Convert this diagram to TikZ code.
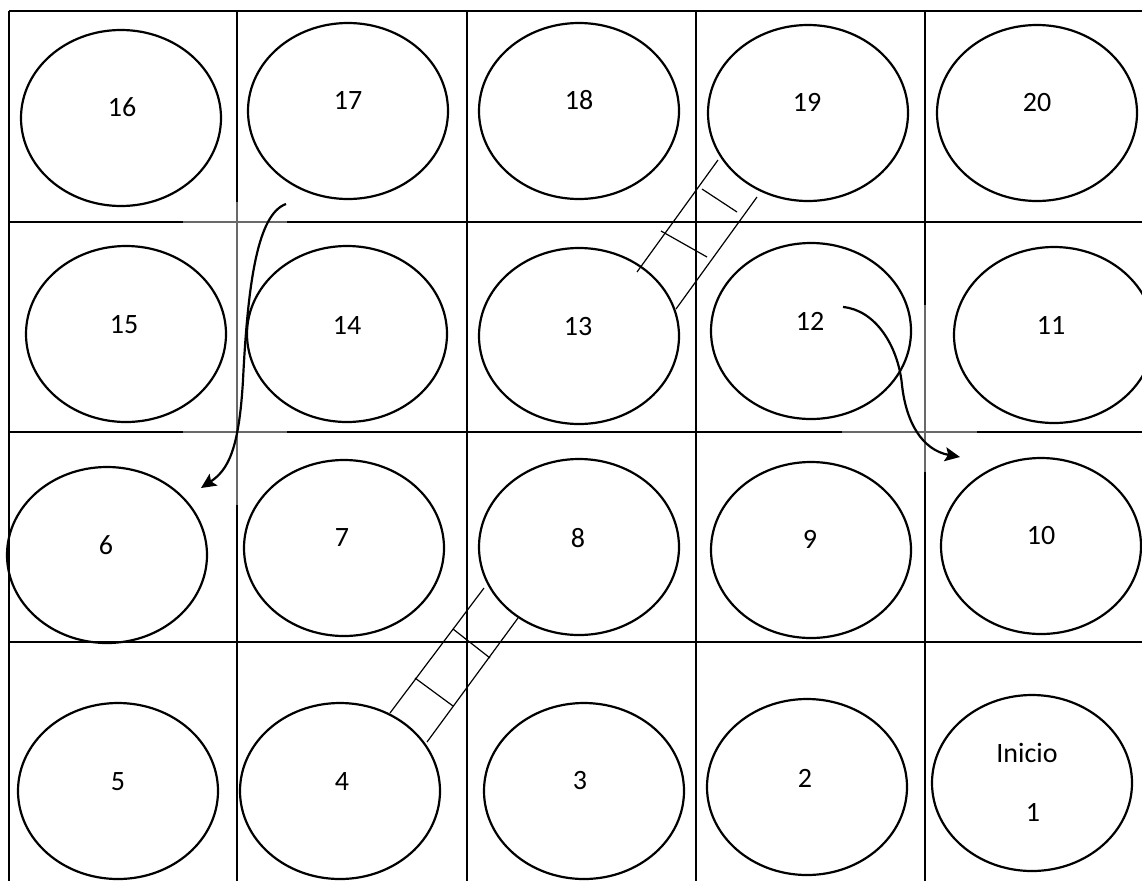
\documentclass[tikz,border=0pt]{standalone}
\usepackage{fontspec}
\setmainfont{Carlito}
\usetikzlibrary{shapes.geometric,arrows.meta}
\definecolor{framegray}{RGB}{105,105,105}
\tikzset{
  cell/.style={draw=black, line width=2.2pt, ellipse, minimum width=200pt, minimum height=176pt, inner sep=0pt, outer sep=0pt},
  lbl/.style={inner sep=0pt, font=\fontsize{28}{31}\selectfont},
  grid/.style={line width=2.3pt, black},
  gline/.style={line width=2.6pt, framegray},
  rail/.style={line width=1.2pt, black},
  jump/.style={line width=2.2pt, black, -{Stealth[length=15pt,width=14pt,inset=3pt]}}
}
\begin{document}
\begin{tikzpicture}[x=1pt,y=-1pt]
\useasboundingbox (0,0) rectangle (1142,881);
\fill[white] (0,0) rectangle (1142,881);
\clip (0,0) rectangle (1142,881);
% grid lines
\draw[grid] (9,11) -- (1142,11);
\draw[grid] (9,222) -- (183,222) (287,222) -- (1142,222);
\draw[grid] (9,432) -- (183,432) (287,432) -- (842,432) (977,432) -- (1142,432);
\draw[grid] (9,642) -- (1142,642);
\draw[grid] (9,11) -- (9,881);
\draw[grid] (237,11) -- (237,202) (237,505) -- (237,881);
\draw[grid] (467,11) -- (467,881);
\draw[grid] (696,11) -- (696,881);
\draw[grid] (925,11) -- (925,305) (925,472) -- (925,881);
% gray frame remnants
\draw[gline] (183,222) -- (287,222) (183,432) -- (287,432) (237,202) -- (237,505);
\draw[gline] (842,432) -- (977,432) (925,305) -- (925,472);
% cells
\node[cell] (e16) at (121,118) {};
\node[cell] (e17) at (348,111) {};
\node[cell] (e18) at (579,111) {};
\node[cell] (e19) at (808,113) {};
\node[cell] (e20) at (1037,113) {};
\node[cell] (e15) at (126,334) {};
\node[cell] (e14) at (347,334) {};
\node[cell] (e13) at (579,336) {};
\node[cell] (e12) at (811,331) {};
\node[cell] (e11) at (1054,335) {};
\node[cell] (e6) at (107,555) {};
\node[cell] (e7) at (344,548) {};
\node[cell] (e8) at (579,547) {};
\node[cell] (e9) at (811,550) {};
\node[cell] (e10) at (1041,546) {};
\node[cell] (e5) at (118,791) {};
\node[cell] (e4) at (340,791) {};
\node[cell] (e3) at (584,791) {};
\node[cell] (e2) at (807,787) {};
\node[cell] (e1) at (1032,783) {};
% labels
\node[lbl] (t16) at (122,107) {16};
\node[lbl] (t17) at (348,100) {17};
\node[lbl] (t18) at (579,100) {18};
\node[lbl] (t19) at (807,102) {19};
\node[lbl] (t20) at (1037,103) {20};
\node[lbl] (t15) at (124,325) {15};
\node[lbl] (t14) at (347,325) {14};
\node[lbl] (t13) at (578,327) {13};
\node[lbl] (t12) at (810,321) {12};
\node[lbl] (t11) at (1051,325) {11};
\node[lbl] (t6) at (106,545) {6};
\node[lbl] (t7) at (342,538) {7};
\node[lbl] (t8) at (578,538) {8};
\node[lbl] (t9) at (810,539) {9};
\node[lbl] (t10) at (1041,536) {10};
\node[lbl] (t5) at (118,782) {5};
\node[lbl] (t4) at (342,781) {4};
\node[lbl] (t3) at (580,780) {3};
\node[lbl] (t2) at (805,778) {2};
\node[lbl] (tinicio) at (1027,753) {Inicio};
\node[lbl] (t1) at (1033,812) {1};
% ladder 13 -> 19
\coordinate (la1) at (637,272); \coordinate (la2) at (718,160);
\coordinate (lb1) at (676,309); \coordinate (lb2) at (757,197);
\coordinate (lr1a) at (661,231); \coordinate (lr1b) at (707,257);
\coordinate (lr2a) at (702,189); \coordinate (lr2b) at (737,212);
\draw[rail] (la1) -- (la2);
\draw[rail] (lb1) -- (lb2);
\draw[rail] (lr1a) -- (lr1b);
\draw[rail] (lr2a) -- (lr2b);
% ladder 4 -> 8
\coordinate (ma1) at (390,713); \coordinate (ma2) at (484,588);
\coordinate (mb1) at (427,742); \coordinate (mb2) at (518,618);
\coordinate (mr1a) at (415,678); \coordinate (mr1b) at (453,706);
\coordinate (mr2a) at (453,629); \coordinate (mr2b) at (490,658);
\draw[rail] (ma1) -- (ma2);
\draw[rail] (mb1) -- (mb2);
\draw[rail] (mr1a) -- (mr1b);
\draw[rail] (mr2a) -- (mr2b);
% snake arrows
\coordinate (a1s) at (286,204); \coordinate (a1e) at (201,488);
\draw[jump] (a1s) .. controls (258,214) and (248,280) .. (243,380) .. controls (239,450) and (228,470) .. (a1e);
\coordinate (a2s) at (843,307); \coordinate (a2e) at (960,457);
\draw[jump] (a2s) .. controls (875,310) and (898,345) .. (902,385) .. controls (906,422) and (922,450) .. (a2e);
\end{tikzpicture}
\end{document}
